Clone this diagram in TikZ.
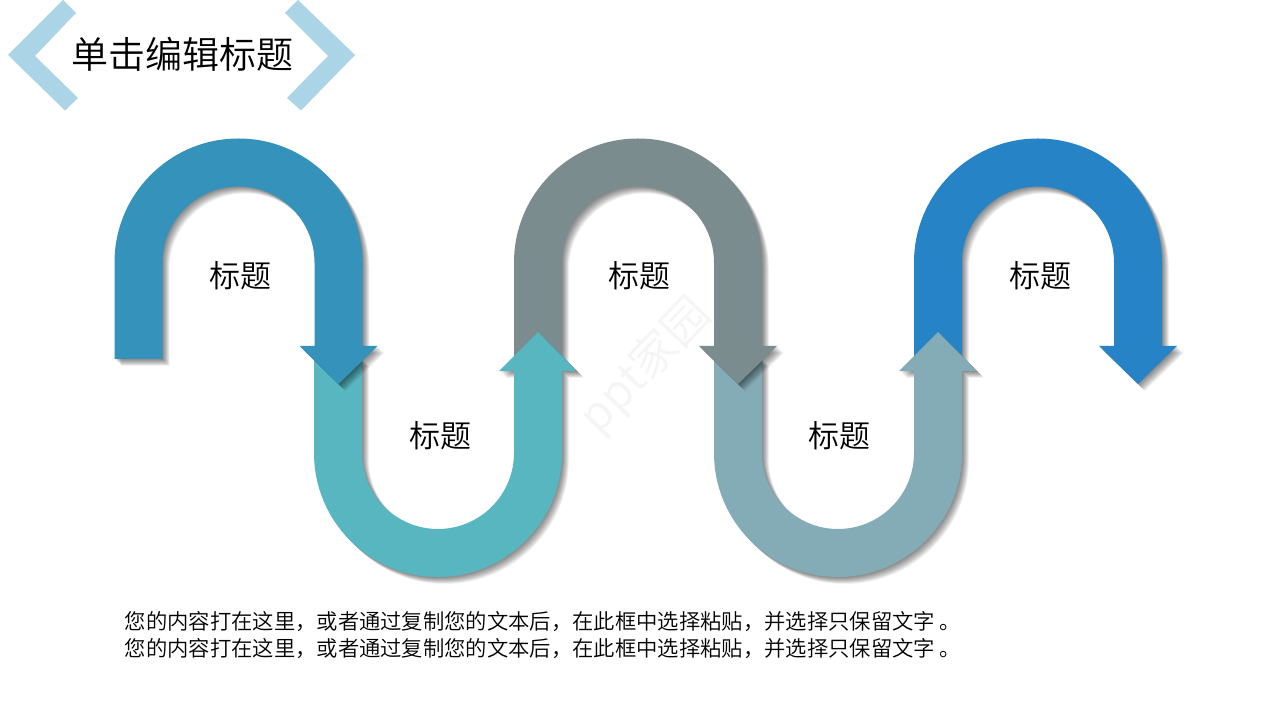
\documentclass[tikz,border=0pt]{standalone}
\usepackage{fontspec}
\setmainfont[UprightFont={* DemiLight}]{Noto Sans CJK SC}
\definecolor{cA}{HTML}{3593BB}
\definecolor{cB}{HTML}{58B6C0}
\definecolor{cC}{HTML}{7A8C8E}
\definecolor{cD}{HTML}{84ACB6}
\definecolor{cE}{HTML}{2683C6}
\definecolor{cChev}{HTML}{ABD5E7}
\definecolor{cMark}{HTML}{F5F5F5}
\tikzset{
  x=1pt,y=1pt,
  softshade/.style={fill=black,fill opacity=.04},
  heading/.style={inner sep=0pt,font=\fontsize{37}{37}\selectfont},
  caption/.style={inner sep=0pt,font=\fontsize{31}{31}\selectfont},
  bodytext/.style={inner sep=0pt,anchor=west,font=\fontsize{21.33}{21.33}\selectfont},
}
\newcommand{\downpath}[1]{(#1-124,361) -- (#1-124,457.5) arc[start angle=180,end angle=0,radius=124] -- (#1+124,374) -- (#1+139,374) -- (#1+100,336) -- (#1+61,374) -- (#1+76,374) -- (#1+76,457.5) arc[start angle=0,end angle=180,radius=76] -- (#1-76,361) -- cycle}
\newcommand{\uppath}[1]{(#1-124,361) -- (#1-124,267) arc[start angle=180,end angle=360,radius=124] -- (#1+124,349) -- (#1+139,349) -- (#1+100,388) -- (#1+61,349) -- (#1+76,349) -- (#1+76,267) arc[start angle=360,end angle=180,radius=76] -- (#1-76,361) -- cycle}
\newcommand{\blurred}[1]{%
  \foreach \d in {0.5,1,...,7}{%
    \path[softshade,shift={(\d,-\d)}] #1;}}
\newcommand{\archdown}[2]{\blurred{\downpath{#1}}\fill[#2] \downpath{#1};}
\newcommand{\archup}[2]{\blurred{\uppath{#1}}\fill[#2] \uppath{#1};}
\begin{document}
\begin{tikzpicture}
\useasboundingbox (0,0) rectangle (1280,720);
\fill[white] (0,0) rectangle (1280,720);
% chevrons
\fill[cChev] (63,720) -- (76,707) -- (35,664) -- (78,622) -- (65,609.5) -- (8,665) -- cycle;
\fill[cChev] (298,720) -- (285,707) -- (328,664) -- (287,622) -- (301,609.5) -- (355,665) -- cycle;
\node[heading] (title) at (182,666) {单击编辑标题};
% watermark
\node[rotate=46,text=cMark,inner sep=0pt,font=\fontsize{46}{46}\selectfont] (mark) at (646,354) {ppt家园};
% ribbon, last first so each head lies on the next arch
\archdown{1038}{cE}
\archup{838}{cD}
\archdown{638}{cC}
\archup{438}{cB}
\archdown{238.5}{cA}
\node[caption] (t1) at (240.5,444) {标题};
\node[caption] (t2) at (440.5,284) {标题};
\node[caption] (t3) at (639.5,444) {标题};
\node[caption] (t4) at (839.5,284) {标题};
\node[caption] (t5) at (1040.5,444) {标题};
\node[bodytext] (b1) at (124.5,98.5) {您的内容打在这里，或者通过复制您的文本后，在此框中选择粘贴，并选择只保留文字 。};
\node[bodytext] (b2) at (124.5,71.5) {您的内容打在这里，或者通过复制您的文本后，在此框中选择粘贴，并选择只保留文字 。};
\end{tikzpicture}
\end{document}
